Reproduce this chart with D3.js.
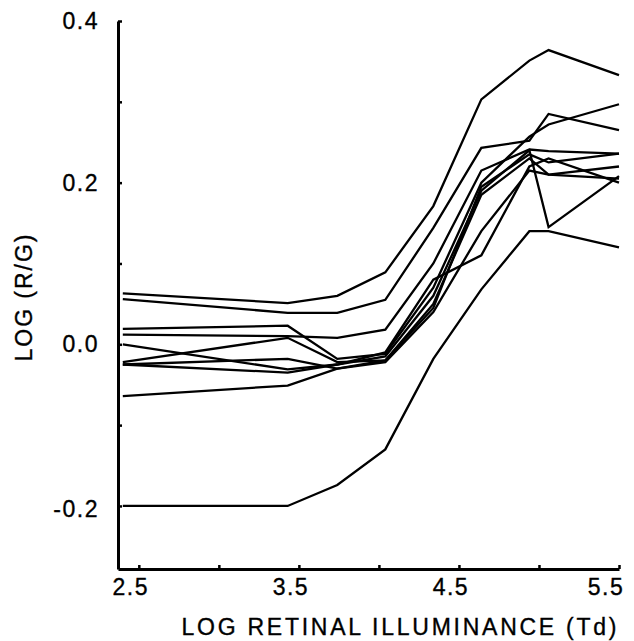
<!DOCTYPE html>
<html lang="en">
<head>
<meta charset="utf-8">
<title>LOG (R/G) vs retinal illuminance</title>
<script src="https://d3js.org/d3.v7.min.js"></script>
<style>
  body { margin: 0; background: #fff; }
  text { font-family: "Liberation Sans", Arial, Helvetica, sans-serif; fill: #000; stroke: #000; stroke-width: 0.35; }
</style>
</head>
<body>
<script>
// data: log retinal illuminance (Td) and log(R/G) for each observer
var illum = [2.4, 3.43, 3.74, 4.04, 4.34, 4.64, 4.94, 5.06, 5.5];

var obs1  = [0.063, 0.051, 0.060, 0.089, 0.171, 0.303, 0.351, 0.364, 0.333];
var obs2  = [0.056, 0.039, 0.039, 0.055, 0.144, 0.243, 0.252, 0.285, 0.265];
var obs3  = [0.019, 0.023, -0.018, -0.012, 0.070, 0.200, 0.257, 0.272, 0.297];
var obs4  = [0.012, 0.010, 0.008, 0.018, 0.100, 0.215, 0.241, 0.239, 0.236];
var obs5  = [0.000, -0.031, -0.025, -0.015, 0.060, 0.190, 0.240, 0.145, 0.208];
var obs6  = [-0.022, 0.008, -0.022, -0.020, 0.050, 0.185, 0.230, 0.210, 0.220];
var obs7  = [-0.025, -0.018, -0.030, -0.020, 0.045, 0.195, 0.235, 0.225, 0.236];
var obs8  = [-0.025, -0.035, -0.025, -0.010, 0.080, 0.110, 0.220, 0.230, 0.200];
var obs9  = [-0.064, -0.051, -0.030, -0.022, 0.040, 0.140, 0.215, 0.210, 0.205];
var obs10 = [-0.200, -0.200, -0.174, -0.130, -0.018, 0.068, 0.140, 0.140, 0.120];

var series = [obs1, obs2, obs3, obs4, obs5, obs6, obs7, obs8, obs9, obs10];

var xTicks = [2.5, 3.0, 3.5, 4.0, 4.5, 5.0, 5.5];
var xLabels = [2.5, 3.5, 4.5, 5.5];
var yTicks = [-0.2, -0.1, 0.0, 0.1, 0.2, 0.3, 0.4];
var yLabels = [-0.2, 0.0, 0.2, 0.4];

var width = 634, height = 641;

var x = d3.scaleLinear().domain([2.37, 5.5]).range([118, 619]);
var y = d3.scaleLinear().domain([-0.278, 0.4]).range([569, 21]);

var svg = d3.select("body").append("svg")
    .attr("width", width)
    .attr("height", height);

// curves
var line = d3.line()
    .x(function(d, i) { return x(illum[i]); })
    .y(function(d) { return y(d); });

svg.append("g").selectAll("path")
    .data(series)
    .enter().append("path")
    .attr("d", line)
    .attr("fill", "none")
    .attr("stroke", "#000")
    .attr("stroke-width", 2.3)
    .attr("stroke-linejoin", "miter");

// axes, ticks point inward
var xAxis = d3.axisBottom(x).tickValues(xTicks).tickSizeInner(-4).tickSizeOuter(0).tickFormat("");
var yAxis = d3.axisLeft(y).tickValues(yTicks).tickSizeInner(-4).tickSizeOuter(0).tickFormat("");

var gx = svg.append("g").attr("transform", "translate(0," + y.range()[0] + ")").call(xAxis);
var gy = svg.append("g").attr("transform", "translate(" + x.range()[0] + ",0)").call(yAxis);

[gx, gy].forEach(function(g) {
    g.select(".domain").attr("stroke", "#000").attr("stroke-width", 3);
    g.selectAll(".tick line").attr("stroke", "#000").attr("stroke-width", 2.5);
});

// tick labels
svg.append("g").selectAll("text")
    .data(xLabels)
    .enter().append("text")
    .attr("x", function(d) { return x(d) - (d === 5.5 ? 13 : 8); })
    .attr("y", 595)
    .attr("text-anchor", "middle")
    .attr("font-size", 23)
    .attr("letter-spacing", 1.5)
    .text(function(d) { return d3.format(".1f")(d); });

svg.append("g").selectAll("text")
    .data(yLabels)
    .enter().append("text")
    .attr("x", 99)
    .attr("y", function(d) { return y(d) + 8 + (d < 0 ? 3 : 0); })
    .attr("text-anchor", "end")
    .attr("font-size", 23)
    .attr("letter-spacing", 1.5)
    .text(function(d) { return d < 0 ? "-" + d3.format(".1f")(-d) : d3.format(".1f")(d); });

// axis titles
svg.append("text")
    .attr("x", 399)
    .attr("y", 635)
    .attr("text-anchor", "middle")
    .attr("font-size", 23)
    .attr("textLength", 435)
    .attr("lengthAdjust", "spacing")
    .text("LOG RETINAL ILLUMINANCE (Td)");

svg.append("text")
    .attr("transform", "translate(32,298) rotate(-90)")
    .attr("text-anchor", "middle")
    .attr("font-size", 23)
    .attr("textLength", 127)
    .attr("lengthAdjust", "spacing")
    .text("LOG (R/G)");
</script>
</body>
</html>
